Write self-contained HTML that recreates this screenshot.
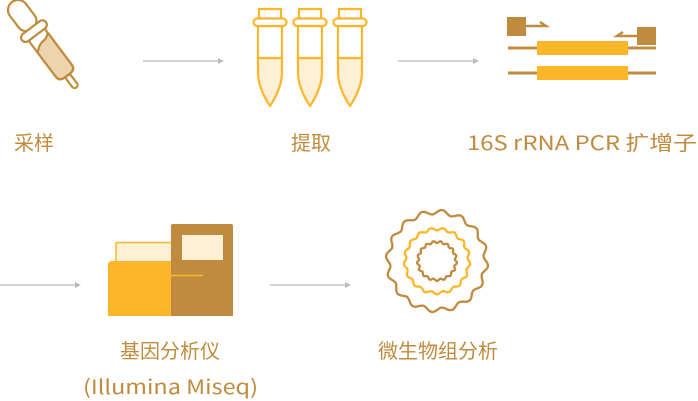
<!DOCTYPE html>
<html><head><meta charset="utf-8"><style>
html,body{margin:0;padding:0;background:#fff;width:698px;height:401px;overflow:hidden}
svg{display:block}
text{font-family:"Noto Sans CJK SC","Liberation Sans",sans-serif;fill:#c08b3e;font-size:20px}
</style></head><body>
<svg width="698" height="401" viewBox="0 0 698 401" xmlns="http://www.w3.org/2000/svg">
<!-- dropper -->
<g transform="translate(12,2) rotate(-37)" stroke="#c08b3e" stroke-width="2.2" stroke-linejoin="round">
<rect x="-10" y="0" width="20" height="34" rx="10" fill="#fff"/>
<path d="M-10,38 L-10,86 Q-10,92 -3,92 L3,92 Q10,92 10,86 L10,38 Z" fill="#fff"/>
<path d="M-10,56 Q-4,50 1,50 Q6,50 10,46 L10,86 Q10,92 3,92 L-3,92 Q-10,92 -10,86 Z" fill="#ecd4ad"/>
<rect x="-15" y="32" width="30" height="9" rx="4.5" fill="#fff"/>
<rect x="-3" y="92" width="6" height="15" rx="3" fill="#fff"/>
</g>
<!-- arrows -->
<g stroke="#bbb" stroke-width="1.2" fill="#bbb">
<line x1="143" y1="61" x2="218" y2="61"/><path d="M218,58 L224,61 L218,64Z" stroke="none"/>
<line x1="398" y1="61" x2="473" y2="61"/><path d="M473,58 L479,61 L473,64Z" stroke="none"/>
<line x1="0" y1="285" x2="75" y2="285"/><path d="M75,282 L81,285 L75,288Z" stroke="none"/>
<line x1="270" y1="285" x2="345" y2="285"/><path d="M345,282 L351,285 L345,288Z" stroke="none"/>
</g>
<!-- tubes -->
<g id="tube" stroke="#fdb52a" stroke-width="2.2" stroke-linejoin="round">
<path d="M258,58 L282,58 L282,72 Q282,88 270,106 Q258,88 258,72 Z" fill="#fdf0d5"/>
<path d="M258,26 L282,26 L282,58 L258,58 Z" fill="#fff"/>
<rect x="259" y="9" width="22" height="10" fill="#fff"/>
<rect x="253.5" y="18.5" width="33" height="7.5" rx="3.7" fill="#fff"/>
</g>
<use href="#tube" x="40"/>
<use href="#tube" x="80"/>
<!-- PCR -->
<g>
<line x1="508" y1="48" x2="656" y2="48" stroke="#c08b3e" stroke-width="3"/>
<line x1="508" y1="73" x2="656" y2="73" stroke="#c08b3e" stroke-width="3"/>
<rect x="537" y="41" width="91" height="14" fill="#fdb52a"/>
<rect x="537" y="66" width="91" height="14" fill="#fdb52a"/>
<rect x="507" y="17" width="19" height="19" fill="#c08b3e"/>
<rect x="637" y="27" width="19" height="18" fill="#c08b3e"/>
<path d="M526,26 L546,26 L540,22" stroke="#c08b3e" stroke-width="2.5" fill="none"/>
<path d="M637,36 L617,36 L623,32" stroke="#c08b3e" stroke-width="2.5" fill="none"/>
</g>
<!-- instrument -->
<rect x="116" y="242.5" width="57" height="22" rx="1.5" fill="#fdf0d5" stroke="#fdb52a" stroke-width="1.5"/>
<path d="M108,265 Q108,261 112,261 L172,261 L172,316 L108,316 Z" fill="#fdb52a"/>
<path d="M171,226 Q171,224 173,224 L231,224 Q233,224 233,226 L233,316 L171,316 Z" fill="#c08b3e"/>
<rect x="182" y="235" width="41" height="25" fill="#fdf0d5"/>
<line x1="171" y1="275.5" x2="203" y2="275.5" stroke="#fdb52a" stroke-width="1.5"/>
<!-- circles -->
<path id="c1" fill="none" stroke="#c08b3e" stroke-width="2.3"/>
<path id="c2" fill="none" stroke="#fdb52a" stroke-width="2.3"/>
<path id="c3" fill="none" stroke="#c08b3e" stroke-width="2.3"/>
<!-- labels -->
<text x="14" y="150">采样</text>
<text x="311" y="150" text-anchor="middle">提取</text>
<text x="467" y="150" textLength="230" lengthAdjust="spacingAndGlyphs">16S rRNA PCR 扩增子</text>
<text x="170" y="358" text-anchor="middle">基因分析仪</text>
<text x="83" y="394" textLength="175" lengthAdjust="spacingAndGlyphs">(Illumina Miseq)</text>
<text x="438" y="358" text-anchor="middle">微生物组分析</text>
</svg>
<script>
function wavy(id,R,a,n){var cx=437,cy=261,d="";for(var i=0;i<=360;i++){var t=i*Math.PI/180;var r=R+a*Math.sin(n*t);d+=(i?"L":"M")+(cx+r*Math.cos(t)).toFixed(2)+","+(cy+r*Math.sin(t)).toFixed(2);}document.getElementById(id).setAttribute("d",d+"Z");}
wavy("c1",49,2.2,16);wavy("c2",32,1.3,17);wavy("c3",19,1.0,17);
</script>
</body></html>
